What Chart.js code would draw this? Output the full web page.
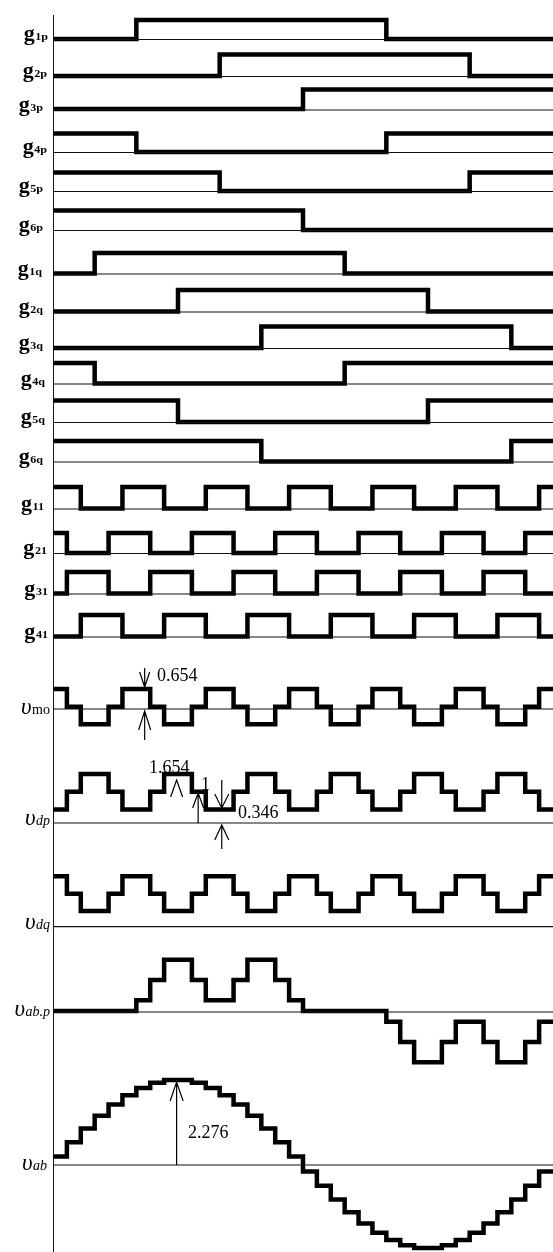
<!DOCTYPE html>
<html>
<head>
<meta charset="utf-8">
<script src="https://cdn.jsdelivr.net/npm/chart.js@4.4.1/dist/chart.umd.min.js"></script>
<style>
  html, body { margin: 0; padding: 0; background: #fff; }
  #wrap { width: 553px; height: 1252px; }
</style>
</head>
<body>
<div id="wrap"><canvas id="waveChart" width="553" height="1252"></canvas></div>
<script>
// switching instants, electrical degrees
const stepDeg = [0, 10, 20, 30, 40, 50, 60, 70, 80, 90, 100, 110, 120, 130, 140, 150, 160, 170,
  180, 190, 200, 210, 220, 230, 240, 250, 260, 270, 280, 290, 300, 310, 320, 330, 340, 350];

// gate signals: level at 0 deg and the instants where they toggle
const gateNames = ['1p', '2p', '3p', '4p', '5p', '6p', '1q', '2q', '3q', '4q', '5q', '6q', '11', '21', '31', '41'];
const gateStart = [0, 0, 0, 1, 1, 1, 0, 0, 0, 1, 1, 1, 1, 1, 0, 0];
const gateEdges = [
  [60, 240], [120, 300], [180], [60, 240], [120, 300], [180],
  [30, 210], [90, 270], [150, 330], [30, 210], [90, 270], [150, 330],
  [20, 50, 80, 110, 140, 170, 200, 230, 260, 290, 320, 350],
  [10, 40, 70, 100, 130, 160, 190, 220, 250, 280, 310, 340],
  [10, 40, 70, 100, 130, 160, 190, 220, 250, 280, 310, 340],
  [20, 50, 80, 110, 140, 170, 200, 230, 260, 290, 320, 350]
];

// stepped voltages, one value per 10 deg step
const vMo = [0.654, 0, -0.654, -0.654, 0, 0.654, 0.654, 0, -0.654, -0.654, 0, 0.654,
  0.654, 0, -0.654, -0.654, 0, 0.654, 0.654, 0, -0.654, -0.654, 0, 0.654,
  0.654, 0, -0.654, -0.654, 0, 0.654, 0.654, 0, -0.654, -0.654, 0, 0.654];
const vDp = [0.346, 1, 1.654, 1.654, 1, 0.346, 0.346, 1, 1.654, 1.654, 1, 0.346,
  0.346, 1, 1.654, 1.654, 1, 0.346, 0.346, 1, 1.654, 1.654, 1, 0.346,
  0.346, 1, 1.654, 1.654, 1, 0.346, 0.346, 1, 1.654, 1.654, 1, 0.346];
const vDq = [1.654, 1, 0.346, 0.346, 1, 1.654, 1.654, 1, 0.346, 0.346, 1, 1.654,
  1.654, 1, 0.346, 0.346, 1, 1.654, 1.654, 1, 0.346, 0.346, 1, 1.654,
  1.654, 1, 0.346, 0.346, 1, 1.654, 1.654, 1, 0.346, 0.346, 1, 1.654];
const vAbP = [0, 0, 0, 0, 0, 0, 0.346, 1, 1.654, 1.654, 1, 0.346,
  0.346, 1, 1.654, 1.654, 1, 0.346, 0, 0, 0, 0, 0, 0,
  -0.346, -1, -1.654, -1.654, -1, -0.346, -0.346, -1, -1.654, -1.654, -1, -0.346];
const vAb = [0.2, 0.59, 0.96, 1.31, 1.61, 1.86, 2.06, 2.2, 2.276, 2.276, 2.2, 2.06,
  1.86, 1.61, 1.31, 0.96, 0.59, 0.2, -0.2, -0.59, -0.96, -1.31, -1.61, -1.86,
  -2.06, -2.2, -2.276, -2.276, -2.2, -2.06, -1.86, -1.61, -1.31, -0.96, -0.59, -0.2];

// where each trace sits on the page (y0 = zero level, gain = px per unit, base = thin line)
const gateRows = [
  { y0: 39, gain: 19, base: 39.5, lx: 48 },
  { y0: 76, gain: 21.5, base: 76.5, lx: 47 },
  { y0: 109, gain: 19.5, base: 110, lx: 43 },
  { y0: 152, gain: 18.5, base: 152.5, lx: 47 },
  { y0: 191, gain: 18.5, base: 191.5, lx: 43 },
  { y0: 230, gain: 19.5, base: 230.5, lx: 43 },
  { y0: 273.5, gain: 20.5, base: 274, lx: 42 },
  { y0: 311.5, gain: 21.5, base: 312, lx: 43 },
  { y0: 348, gain: 21.5, base: 348.5, lx: 43 },
  { y0: 383.5, gain: 20.5, base: 384, lx: 45 },
  { y0: 422, gain: 21.5, base: 422.5, lx: 45 },
  { y0: 461.5, gain: 20.5, base: 462, lx: 43 },
  { y0: 508.5, gain: 21.5, base: 509, lx: 44 },
  { y0: 553, gain: 20, base: 553.5, lx: 47 },
  { y0: 593.5, gain: 21.5, base: 594, lx: 48 },
  { y0: 636.5, gain: 21.5, base: 637, lx: 48 }
];
const voltRows = [
  { vals: vMo, y0: 706.7, gain: 27, base: 709, sub: 'mo', subItalic: false, lx: 50, ly: 714 },
  { vals: vDp, y0: 818.8, gain: 27.1, base: 823, sub: 'dp', subItalic: true, lx: 50, ly: 825 },
  { vals: vDq, y0: 920.3, gain: 26.6, base: 926.7, sub: 'dq', subItalic: true, lx: 50, ly: 929 },
  { vals: vAbP, y0: 1011, gain: 31, base: 1012, sub: 'ab.p', subItalic: true, lx: 50, ly: 1016 },
  { vals: vAb, y0: 1164, gain: 36.9, base: 1165, sub: 'ab', subItalic: true, lx: 47, ly: 1170 }
];

const THICK = 4.5;
const THIN = 1.2;
const datasets = [];

function flat(y) {
  return { data: [{ x: 0, y: y }, { x: 360, y: y }], borderColor: '#111', borderWidth: THIN, pointRadius: 0 };
}
function steps(points) {
  return { data: points, borderColor: '#000', borderWidth: THICK, pointRadius: 0, stepped: true,
    borderJoinStyle: 'miter', borderCapStyle: 'butt' };
}

gateRows.forEach((row, i) => {
  datasets.push(flat(row.base));
  let level = gateStart[i];
  const pts = [{ x: 0, y: row.y0 - row.gain * level }];
  gateEdges[i].forEach(t => {
    level = 1 - level;
    pts.push({ x: t, y: row.y0 - row.gain * level });
  });
  pts.push({ x: 360, y: row.y0 - row.gain * level });
  datasets.push(steps(pts));
});

voltRows.forEach(row => {
  datasets.push(flat(row.base));
  const pts = stepDeg.map((d, k) => ({ x: d, y: row.y0 - row.gain * row.vals[k] }));
  pts.push({ x: 360, y: row.y0 - row.gain * row.vals[row.vals.length - 1] });
  datasets.push(steps(pts));
});

// vertical time axis
datasets.push({ data: [{ x: 0, y: 15 }, { x: 0, y: 1252 }], borderColor: '#000', borderWidth: 1.8, pointRadius: 0 });

function drawLabel(ctx, x, y, main, sub, mainFont, subFont, sx) {
  ctx.save();
  ctx.translate(x, y);
  ctx.scale(sx, 1);
  ctx.fillStyle = '#000';
  ctx.textAlign = 'right';
  ctx.textBaseline = 'alphabetic';
  ctx.font = subFont;
  ctx.fillText(sub, 0, 0);
  const w = ctx.measureText(sub).width;
  ctx.font = mainFont;
  ctx.fillText(main, -w - 0.5, 0);
  ctx.restore();
}

function arrow(ctx, x, yFrom, yTo, spread, len) {
  const dir = yTo > yFrom ? 1 : -1;
  ctx.beginPath();
  ctx.moveTo(x, yFrom);
  ctx.lineTo(x, yTo);
  ctx.moveTo(x - spread, yTo - dir * len);
  ctx.lineTo(x, yTo);
  ctx.lineTo(x + spread, yTo - dir * len);
  ctx.stroke();
}

const decorate = {
  id: 'decorate',
  afterDatasetsDraw(chart) {
    const ctx = chart.ctx;
    const xs = chart.scales.x;
    gateRows.forEach((row, i) => {
      drawLabel(ctx, row.lx, row.base + 0.5, 'g', gateNames[i],
        'bold 20px "Liberation Serif"', 'bold 11px "Liberation Serif"', 1.1);
    });
    voltRows.forEach(row => {
      drawLabel(ctx, row.lx, row.ly, 'υ', row.sub, 'italic 23px "Liberation Serif"',
        (row.subItalic ? 'italic ' : '') + '14px "Liberation Serif"', 1);
    });

    ctx.save();
    ctx.strokeStyle = '#000';
    ctx.lineWidth = 1.2;
    ctx.fillStyle = '#000';
    ctx.font = '18px "Liberation Serif"';
    ctx.textBaseline = 'middle';
    ctx.textAlign = 'left';

    // 0.654 on v_mo
    const xa = xs.getPixelForValue(66);
    arrow(ctx, xa, 668, 687, 5, 15);
    arrow(ctx, xa, 740, 711, 6, 19);
    ctx.fillText('0.654', 157, 676);

    // 1.654 / 1 / 0.346 on v_dp
    ctx.fillText('1.654', 149, 768);
    const xb = xs.getPixelForValue(89);
    ctx.beginPath();
    ctx.moveTo(xb - 6, 797); ctx.lineTo(xb, 780); ctx.lineTo(xb + 6, 797);
    ctx.stroke();
    const xc = xs.getPixelForValue(104.5);
    arrow(ctx, xc, 823, 793, 5.5, 15);
    ctx.fillText('1', 201, 785);
    const xd = xs.getPixelForValue(121.5);
    arrow(ctx, xd, 780, 808, 7, 14);
    arrow(ctx, xd, 849, 825, 7, 15);
    ctx.fillText('0.346', 238, 813);

    // 2.276 on v_ab
    const xe = xs.getPixelForValue(89);
    arrow(ctx, xe, 1165, 1082, 6.5, 19);
    ctx.fillText('2.276', 188, 1133);
    ctx.restore();
  }
};

new Chart(document.getElementById('waveChart'), {
  type: 'line',
  data: { datasets },
  options: {
    responsive: false,
    animation: false,
    layout: { padding: { left: 53, right: 0, top: 0, bottom: 0 } },
    scales: {
      x: { type: 'linear', min: 0, max: 360, display: false },
      y: { type: 'linear', min: 0, max: 1252, reverse: true, display: false }
    },
    plugins: { legend: { display: false }, tooltip: { enabled: false } },
    elements: { point: { radius: 0 }, line: { tension: 0 } }
  },
  plugins: [decorate]
});
</script>
</body>
</html>
